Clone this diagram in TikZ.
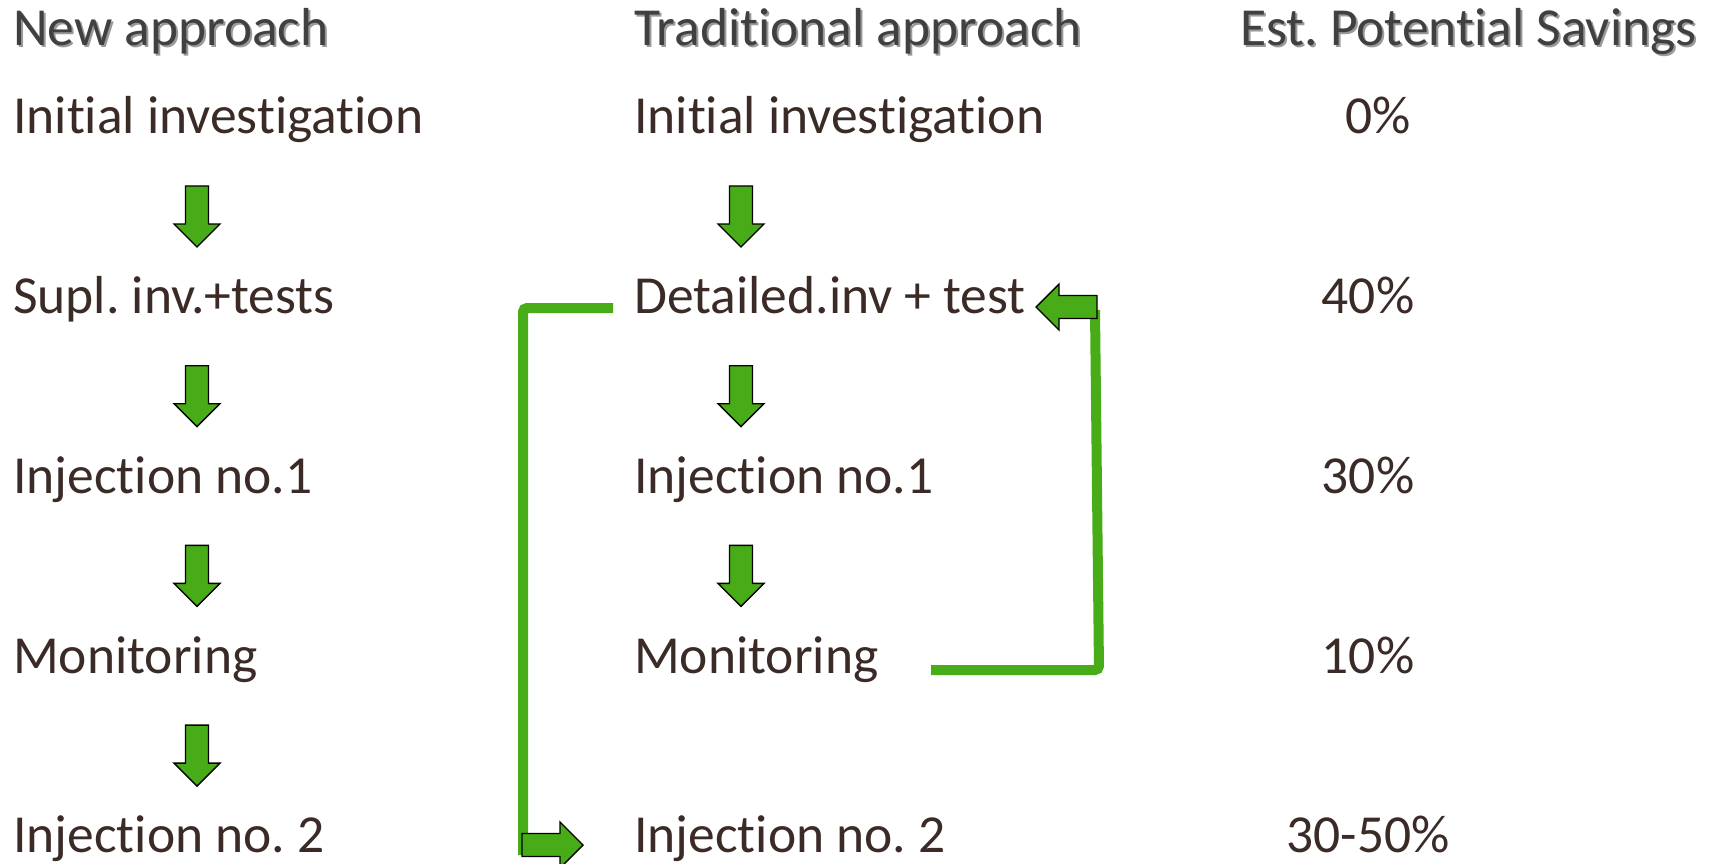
\documentclass[tikz,border=0pt]{standalone}
\usepackage{fontspec}
\setmainfont{Carlito}[Ligatures=NoCommon]
\frenchspacing
\definecolor{grn}{HTML}{48AC18}
\definecolor{bodytxt}{HTML}{3B2B26}
\definecolor{headtxt}{HTML}{404040}
\definecolor{shadowc}{HTML}{9A9A9A}
\tikzset{
  bodytext/.style={anchor=base west,inner sep=0pt,text=bodytxt,font=\fontsize{53.5}{60}\selectfont},
  numtext/.style={anchor=base,inner sep=0pt,text=bodytxt,font=\fontsize{53.5}{60}\selectfont},
  headtext/.style={anchor=base west,inner sep=0pt,text=headtxt,font=\fontsize{53.5}{60}\selectfont},
  headshadow/.style={anchor=base west,inner sep=0pt,text=shadowc,font=\fontsize{53.5}{60}\selectfont},
  conn/.style={draw=grn,line width=10pt,rounded corners=4pt},
  pics/barrow/.style={code={
    \draw[fill=grn,draw=black,line width=1.4pt,line join=miter]
      (0,-11.5) -- (38,-11.5) -- (38,-23) -- (61,0) -- (38,23) -- (38,11.5) -- (0,11.5) -- cycle;}}
}
\begin{document}
\begin{tikzpicture}[x=1pt,y=-1pt]
\useasboundingbox (0,0) rectangle (1717,864);
\fill[white] (0,0) rectangle (1717,864);
% headers
\foreach \x/\t/\n in {13/New approach/h1,634/Traditional approach/h2,1240/Est. Potential Savings/h3}{
  \node[headshadow] at (\x+2,48) {\t};
  \node[headtext] (\n) at (\x,46) {\t};
}
% left column
\node[bodytext] (l1) at (13,134) {Initial investigation};
\node[bodytext] (l2) at (13,313.7) {Supl. inv.+tests};
\node[bodytext] (l3) at (13,493.4) {Injection no.1};
\node[bodytext] (l4) at (13,673.1) {Monitoring};
\node[bodytext] (l5) at (13,852.8) {Injection no. 2};
% middle column
\node[bodytext] (m1) at (634,134) {Initial investigation};
\node[bodytext] (m2) at (634,313.7) {Detailed.inv + test};
\node[bodytext] (m3) at (634,493.4) {Injection no.1};
\node[bodytext] (m4) at (634,673.1) {Monitoring};
\node[bodytext] (m5) at (634,852.8) {Injection no. 2};
% savings
\node[numtext] (s1) at (1378,134) {0\%};
\node[numtext] (s2) at (1368,313.7) {40\%};
\node[numtext] (s3) at (1368,493.4) {30\%};
\node[numtext] (s4) at (1368,673.1) {10\%};
\node[numtext] (s5) at (1368,852.8) {30-50\%};
% down arrows
\foreach \y in {186,365.7,545.4,725.1}{
  \pic[rotate=-90] at (197,\y) {barrow};
}
\foreach \y in {186,365.7,545.4}{
  \pic[rotate=-90] at (741,\y) {barrow};
}
% connectors
\coordinate (a1) at (613,308);
\coordinate (a2) at (523,308);
\coordinate (a3) at (523,855);
\draw[conn] (a1) -- (a2) -- (a3);
\coordinate (b1) at (931,670);
\coordinate (b2) at (1099,670);
\coordinate (b3) at (1095,310);
\draw[conn] (b1) -- (b2) -- (b3);
\pic[rotate=180] at (1097,307) {barrow};
\pic at (522,845) {barrow};
\end{tikzpicture}
\end{document}
